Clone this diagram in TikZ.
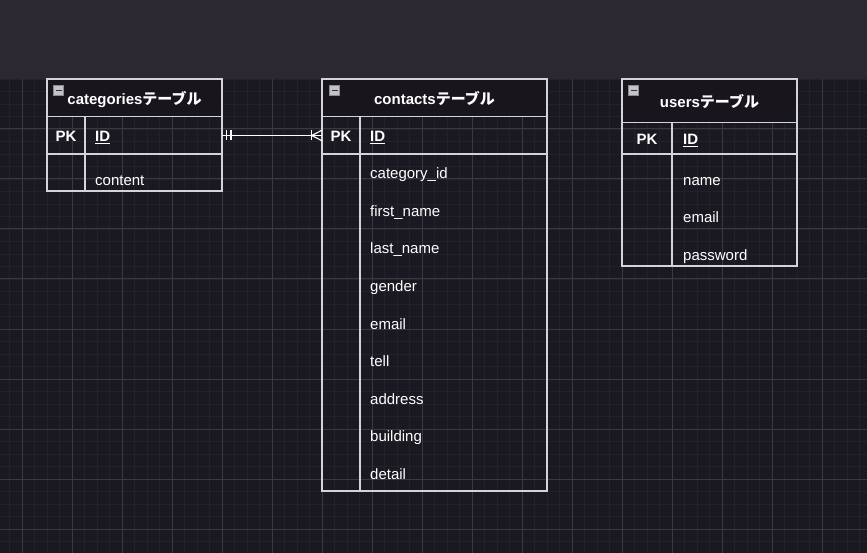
\documentclass[tikz,border=0pt]{standalone}
\usepackage{fontspec}
\setmainfont{Liberation Sans}
\newfontfamily\jp{Noto Sans CJK JP}
\definecolor{topband}{HTML}{2B2832}
\definecolor{canvas}{HTML}{1A1820}
\definecolor{minorgrid}{HTML}{232129}
\definecolor{majorgrid}{HTML}{3A3840}
\definecolor{tblline}{HTML}{D4D4D8}
\definecolor{headfill}{HTML}{18151D}
\definecolor{iconfill}{HTML}{C4C4C8}
\definecolor{iconedge}{HTML}{8A8A90}
\tikzset{
  tbl/.style={draw=tblline, line width=1.3pt, rectangle, inner sep=0pt, outer sep=0pt, anchor=north west},
  sep/.style={draw=tblline, line width=1.2pt},
  cell/.style={font=\fontsize{15}{18}\selectfont, text=white, inner sep=0pt, anchor=base west},
  keycell/.style={font=\fontsize{15}{18}\selectfont\bfseries, text=white, inner sep=0pt, anchor=base},
  idcell/.style={font=\fontsize{15}{18}\selectfont\bfseries, text=white, inner sep=0pt, anchor=base west},
  ttl/.style={font=\fontsize{15}{18}\selectfont\bfseries, text=white, inner sep=0pt, anchor=base},
  icon/.style={fill=iconfill, draw=iconedge, line width=0.6pt},
  rel/.style={draw=white, line width=1.1pt}
}
\begin{document}
\begin{tikzpicture}[x=1pt,y=-1pt]
\useasboundingbox (0,0) rectangle (867,553);
\fill[canvas] (0,0) rectangle (867,553);
% grid
\foreach \i in {0,...,69} \draw[minorgrid, line width=0.9pt] ({9.5+12.5*\i},79) -- ({9.5+12.5*\i},553);
\foreach \i in {0,...,38} \draw[minorgrid, line width=0.9pt] (0,{79+12.5*\i}) -- (867,{79+12.5*\i});
\foreach \i in {0,...,17} \draw[majorgrid, line width=1pt] ({22+50*\i},79) -- ({22+50*\i},553);
\foreach \i in {0,...,9} \draw[majorgrid, line width=1pt] (0,{79+50*\i}) -- (867,{79+50*\i});
\fill[topband] (0,0) rectangle (867,79);

% header fills
\fill[headfill] (47,79) rectangle (222,116.5);
\fill[headfill] (322,79) rectangle (547,116.5);
\fill[headfill] (622,79) rectangle (797,122.5);

% categories table
\node[tbl, minimum width=175pt, minimum height=112pt] (catbox) at (47,79) {};
\draw[sep] (47,116.5) -- (222,116.5);
\draw[sep] (47,154) -- (222,154);
\draw[sep] (85,116.5) -- (85,191);
\draw[icon] (53.5,85.5) rectangle (63.5,95.5);
\draw[black!80, line width=1.2pt] (55.5,90.5) -- (61.5,90.5);
\node[ttl] (cattitle) at (134.5,104.6) {categories{\jp テーブル}};
\node[keycell] (catpk) at (66,141.4) {PK};
\node[idcell] (catid) at (95,141.4) {\underline{ID}};
\node[cell] (catcontent) at (95,185.7) {content};

% contacts table
\node[tbl, minimum width=225pt, minimum height=412pt] (conbox) at (322,79) {};
\draw[sep] (322,116.5) -- (547,116.5);
\draw[sep] (322,154) -- (547,154);
\draw[sep] (360,116.5) -- (360,491);
\draw[icon] (329.5,85.5) rectangle (339.5,95.5);
\draw[black!80, line width=1.2pt] (331.5,90.5) -- (337.5,90.5);
\node[ttl] (contitle) at (434.5,104.2) {contacts{\jp テーブル}};
\node[keycell] (conpk) at (341,141.4) {PK};
\node[idcell] (conid) at (370,141.4) {\underline{ID}};
\node[cell] (c1) at (370,179) {category\_id};
\node[cell] (c2) at (370,216.5) {first\_name};
\node[cell] (c3) at (370,254) {last\_name};
\node[cell] (c4) at (370,291.5) {gender};
\node[cell] (c5) at (370,329) {email};
\node[cell] (c6) at (370,366.5) {tell};
\node[cell] (c7) at (370,404) {address};
\node[cell] (c8) at (370,441.5) {building};
\node[cell] (c9) at (370,479) {detail};

% users table
\node[tbl, minimum width=175pt, minimum height=187pt] (usrbox) at (622,79) {};
\draw[sep] (622,122.5) -- (797,122.5);
\draw[sep] (622,154) -- (797,154);
\draw[sep] (672,122.5) -- (672,266);
\draw[icon] (628.5,85.5) rectangle (638.5,95.5);
\draw[black!80, line width=1.2pt] (630.5,90.5) -- (636.5,90.5);
\node[ttl] (usrtitle) at (709.5,107.4) {users{\jp テーブル}};
\node[keycell] (usrpk) at (647,144.7) {PK};
\node[idcell] (usrid) at (683,144.7) {\underline{ID}};
\node[cell] (u1) at (683,185.2) {name};
\node[cell] (u2) at (683,222.7) {email};
\node[cell] (u3) at (683,260.2) {password};

% relationship categories (one) -> contacts (many)
\coordinate (relA) at (222,135.5);
\coordinate (relB) at (322,135.5);
\draw[rel] (relA) -- (relB);
\draw[rel] ([xshift=4.7pt]relA) ++(0,-5) -- ++(0,10);
\draw[rel] ([xshift=9pt]relA) ++(0,-5) -- ++(0,10);
\draw[rel] ([xshift=-10.3pt]relB) ++(0,-5) -- ++(0,10);
\draw[rel] ([xshift=-10.3pt]relB) -- ([yshift=5.3pt]relB);
\draw[rel] ([xshift=-10.3pt]relB) -- ([yshift=-5.3pt]relB);
\end{tikzpicture}
\end{document}
